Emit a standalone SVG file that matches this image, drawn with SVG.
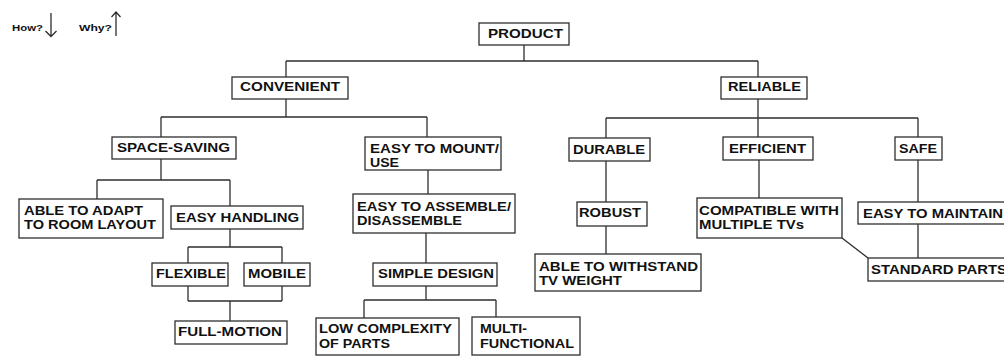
<svg xmlns="http://www.w3.org/2000/svg" width="1004" height="356" viewBox="0 0 1004 356">
  <style>
    .box { fill: #ffffff; stroke: #2e2e2e; stroke-width: 1.3; }
    .wire { fill: none; stroke: #2e2e2e; stroke-width: 1.3; }
    text { font-family: "Liberation Sans", Arial, sans-serif; font-weight: bold; font-size: 12.5px; fill: #111; }
    .legend { font-size: 9.3px; }
  </style>

  <rect width="1004" height="356" fill="#ffffff"/>

  <!-- legend: how (down) / why (up) -->
  <g id="legend">
    <text class="legend" x="12" y="31" textLength="31" lengthAdjust="spacingAndGlyphs">How?</text>
    <path class="wire" d="M51 13 V36 M45.5 31 L51 36.5 L56.5 31"/>
    <text class="legend" x="79" y="31" textLength="33" lengthAdjust="spacingAndGlyphs">Why?</text>
    <path class="wire" d="M116 36 V12 M111.5 17 L116 12 L120.5 17"/>
  </g>

  <!-- connectors -->
  <g id="connectors">
    <path class="wire" d="M524 45 V61 M286 61 H758 M286 61 V77 M758 61 V77"/>
    <path class="wire" d="M286 99 V117 M161 117 H427 M161 117 V137 M427 117 V137"/>
    <path class="wire" d="M758 99 V118 M606 118 H918 M606 118 V138 M758 118 V137 M918 118 V137"/>
    <path class="wire" d="M161 159 V180 M97 180 H230 M97 180 V199 M230 180 V206"/>
    <path class="wire" d="M230 229 V247 M188 247 H282 M188 247 V263 M282 247 V263"/>
    <path class="wire" d="M188 286 V301 M282 286 V301 M188 301 H282 M230 301 V321"/>
    <path class="wire" d="M428 170 V194 M426 233 V263"/>
    <path class="wire" d="M426 286 V300 M364 300 H496 M364 300 V318 M496 300 V317"/>
    <path class="wire" d="M606 161 V202 M606 226 V254"/>
    <path class="wire" d="M759 160 V198"/>
    <path class="wire" d="M918 160 V202 M918 224 V258"/>
    <path class="wire" d="M842 238 L868 258"/>
  </g>

  <g id="product">
    <rect class="box" x="479" y="23" width="90" height="22"/>
    <text x="488" y="38" textLength="75" lengthAdjust="spacingAndGlyphs">PRODUCT</text>
  </g>

  <g id="convenient">
    <rect class="box" x="232" y="77" width="116" height="22"/>
    <text x="240" y="91" textLength="100" lengthAdjust="spacingAndGlyphs">CONVENIENT</text>
  </g>

  <g id="reliable">
    <rect class="box" x="721" y="77" width="86" height="22"/>
    <text x="728" y="91" textLength="73" lengthAdjust="spacingAndGlyphs">RELIABLE</text>
  </g>

  <g id="space-saving">
    <rect class="box" x="112" y="137" width="124" height="22"/>
    <text x="117" y="152" textLength="113" lengthAdjust="spacingAndGlyphs">SPACE-SAVING</text>
  </g>

  <g id="easy-to-mount">
    <rect class="box" x="365" y="137" width="136" height="33"/>
    <text x="370" y="153" textLength="129" lengthAdjust="spacingAndGlyphs">EASY TO MOUNT/</text>
    <text x="370" y="167" textLength="29" lengthAdjust="spacingAndGlyphs">USE</text>
  </g>

  <g id="durable">
    <rect class="box" x="569" y="138" width="81" height="23"/>
    <text x="573" y="154" textLength="72" lengthAdjust="spacingAndGlyphs">DURABLE</text>
  </g>

  <g id="efficient">
    <rect class="box" x="723" y="137" width="90" height="23"/>
    <text x="729" y="153" textLength="77" lengthAdjust="spacingAndGlyphs">EFFICIENT</text>
  </g>

  <g id="safe">
    <rect class="box" x="895" y="137" width="47" height="23"/>
    <text x="899" y="153" textLength="38" lengthAdjust="spacingAndGlyphs">SAFE</text>
  </g>

  <g id="able-to-adapt">
    <rect class="box" x="19" y="199" width="144" height="39"/>
    <text x="24" y="215" textLength="119" lengthAdjust="spacingAndGlyphs">ABLE TO ADAPT</text>
    <text x="24" y="229" textLength="132" lengthAdjust="spacingAndGlyphs">TO ROOM LAYOUT</text>
  </g>

  <g id="easy-handling">
    <rect class="box" x="171" y="206" width="132" height="23"/>
    <text x="176" y="222" textLength="123" lengthAdjust="spacingAndGlyphs">EASY HANDLING</text>
  </g>

  <g id="flexible">
    <rect class="box" x="152" y="263" width="76" height="23"/>
    <text x="156" y="278" textLength="70" lengthAdjust="spacingAndGlyphs">FLEXIBLE</text>
  </g>

  <g id="mobile">
    <rect class="box" x="244" y="263" width="66" height="23"/>
    <text x="248" y="278" textLength="58" lengthAdjust="spacingAndGlyphs">MOBILE</text>
  </g>

  <g id="full-motion">
    <rect class="box" x="175" y="321" width="112" height="23"/>
    <text x="178" y="336" textLength="104" lengthAdjust="spacingAndGlyphs">FULL-MOTION</text>
  </g>

  <g id="easy-to-assemble">
    <rect class="box" x="353" y="194" width="162" height="39"/>
    <text x="357" y="211" textLength="154" lengthAdjust="spacingAndGlyphs">EASY TO ASSEMBLE/</text>
    <text x="357" y="225" textLength="105" lengthAdjust="spacingAndGlyphs">DISASSEMBLE</text>
  </g>

  <g id="simple-design">
    <rect class="box" x="373" y="263" width="124" height="23"/>
    <text x="378" y="278" textLength="116" lengthAdjust="spacingAndGlyphs">SIMPLE DESIGN</text>
  </g>

  <g id="low-complexity">
    <rect class="box" x="316" y="318" width="143" height="37"/>
    <text x="319" y="333" textLength="133" lengthAdjust="spacingAndGlyphs">LOW COMPLEXITY</text>
    <text x="319" y="348" textLength="71" lengthAdjust="spacingAndGlyphs">OF PARTS</text>
  </g>

  <g id="multi-functional">
    <rect class="box" x="472" y="317" width="108" height="38"/>
    <text x="480" y="333" textLength="47" lengthAdjust="spacingAndGlyphs">MULTI-</text>
    <text x="480" y="348" textLength="94" lengthAdjust="spacingAndGlyphs">FUNCTIONAL</text>
  </g>

  <g id="robust">
    <rect class="box" x="577" y="202" width="70" height="24"/>
    <text x="579" y="217" textLength="62" lengthAdjust="spacingAndGlyphs">ROBUST</text>
  </g>

  <g id="withstand-weight">
    <rect class="box" x="535" y="254" width="166" height="37"/>
    <text x="539" y="271" textLength="159" lengthAdjust="spacingAndGlyphs">ABLE TO WITHSTAND</text>
    <text x="539" y="285" textLength="83" lengthAdjust="spacingAndGlyphs">TV WEIGHT</text>
  </g>

  <g id="compatible">
    <rect class="box" x="697" y="198" width="145" height="40"/>
    <text x="699" y="215" textLength="140" lengthAdjust="spacingAndGlyphs">COMPATIBLE WITH</text>
    <text x="699" y="229" textLength="105" lengthAdjust="spacingAndGlyphs">MULTIPLE TVs</text>
  </g>

  <g id="easy-to-maintain">
    <rect class="box" x="858" y="202" width="152" height="22"/>
    <text x="863" y="218" textLength="140" lengthAdjust="spacingAndGlyphs">EASY TO MAINTAIN</text>
  </g>

  <g id="standard-parts">
    <rect class="box" x="868" y="258" width="142" height="23"/>
    <text x="871" y="274" textLength="136" lengthAdjust="spacingAndGlyphs">STANDARD PARTS</text>
  </g>
</svg>
